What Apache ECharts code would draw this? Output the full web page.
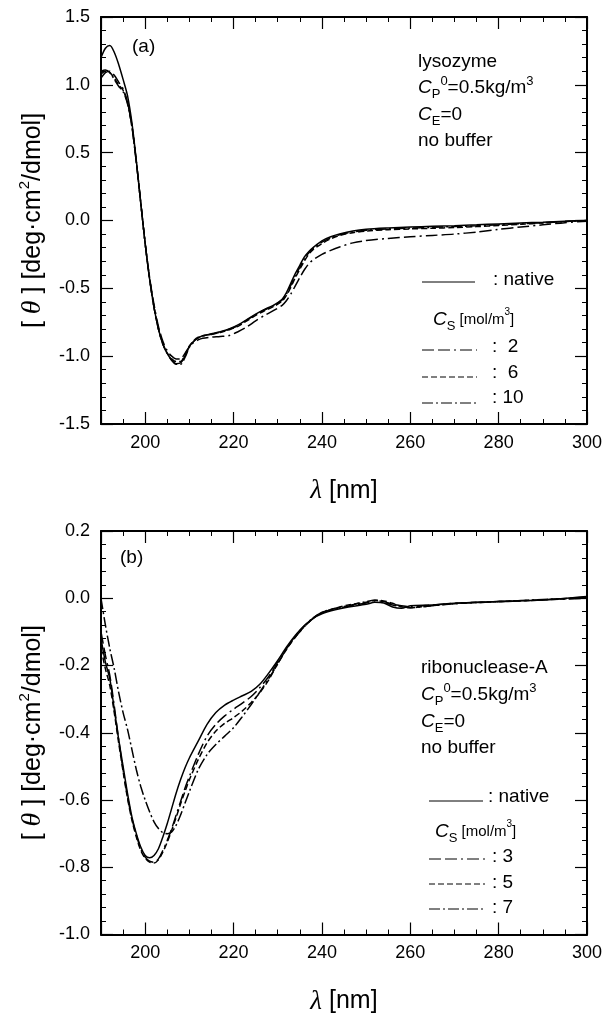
<!DOCTYPE html>
<html>
<head>
<meta charset="utf-8">
<script src="https://cdn.jsdelivr.net/npm/echarts@6/dist/echarts.min.js"></script>
<style>
html, body { margin: 0; padding: 0; background: #fff; }
#chart { width: 614px; height: 1016px; }
</style>
</head>
<body>
<div id="chart"></div>
<script>
// (a) lysozyme
var lambdaA = [190,191,192,193,194,195,196,197,198,199,200,201,202,203,204,205,206,207,208,209,210,211,212,213,
  215,217,219,221,223,225,227,229,231,232,233,234,235,236,237,238,240,242,244,247,250,255,260,265,270,275,280,285,290,295,300];
var nativeA = [1.20,1.27,1.29,1.24,1.15,1.04,0.92,0.72,0.44,0.13,-0.17,-0.43,-0.64,-0.80,-0.91,-0.98,-1.03,-1.055,-1.05,-1.00,
  -0.93,-0.89,-0.865,-0.85,-0.835,-0.82,-0.80,-0.77,-0.73,-0.69,-0.655,-0.625,-0.58,-0.53,-0.46,-0.39,-0.33,-0.27,-0.23,-0.20,
  -0.15,-0.12,-0.10,-0.078,-0.065,-0.055,-0.048,-0.043,-0.038,-0.032,-0.025,-0.018,-0.012,-0.005,0.0];
var cs2A = [1.05,1.09,1.10,1.07,1.02,0.97,0.87,0.69,0.43,0.13,-0.17,-0.42,-0.62,-0.78,-0.89,-0.96,-1.00,-1.02,-1.02,-0.98,
  -0.93,-0.90,-0.88,-0.868,-0.86,-0.855,-0.848,-0.82,-0.785,-0.74,-0.70,-0.665,-0.625,-0.59,-0.54,-0.48,-0.42,-0.365,-0.32,-0.29,
  -0.25,-0.22,-0.195,-0.165,-0.148,-0.132,-0.12,-0.11,-0.10,-0.085,-0.065,-0.048,-0.032,-0.016,-0.005];
var cs6A = [1.08,1.10,1.09,1.05,1.00,0.96,0.87,0.70,0.43,0.13,-0.17,-0.43,-0.64,-0.80,-0.91,-0.98,-1.02,-1.04,-1.04,-0.99,
  -0.925,-0.885,-0.86,-0.85,-0.84,-0.825,-0.805,-0.78,-0.74,-0.70,-0.665,-0.635,-0.595,-0.55,-0.49,-0.42,-0.36,-0.30,-0.25,-0.215,
  -0.17,-0.135,-0.11,-0.09,-0.078,-0.068,-0.062,-0.057,-0.052,-0.045,-0.037,-0.028,-0.018,-0.008,0.0];
var cs10A = [1.10,1.11,1.09,1.04,0.99,0.95,0.86,0.69,0.43,0.13,-0.17,-0.43,-0.64,-0.80,-0.91,-0.98,-1.03,-1.06,-1.06,-1.01,
  -0.935,-0.89,-0.865,-0.852,-0.838,-0.822,-0.802,-0.775,-0.735,-0.695,-0.66,-0.63,-0.585,-0.54,-0.475,-0.405,-0.345,-0.285,-0.24,-0.205,
  -0.16,-0.128,-0.105,-0.085,-0.072,-0.062,-0.056,-0.05,-0.045,-0.039,-0.032,-0.024,-0.016,-0.008,0.0];

// (b) ribonuclease-A
var lambdaB = [190,191,192,193,194,195,196,197,198,199,200,201,202,203,204,205,206,207,208,209,210,
  212,214,216,218,220,222,224,226,228,230,232,234,236,238,240,243,246,250,252,254,256,258,260,265,270,280,290,300];
var nativeB = [-0.12,-0.19,-0.24,-0.33,-0.42,-0.50,-0.58,-0.65,-0.70,-0.74,-0.765,-0.772,-0.765,-0.745,-0.71,-0.67,-0.625,-0.58,-0.54,-0.505,-0.475,
  -0.425,-0.375,-0.34,-0.318,-0.303,-0.29,-0.277,-0.255,-0.222,-0.185,-0.145,-0.11,-0.082,-0.06,-0.046,
  -0.034,-0.026,-0.018,-0.012,-0.014,-0.026,-0.03,-0.022,-0.02,-0.015,-0.01,-0.005,0.005];
var cs3B = [-0.10,-0.17,-0.23,-0.32,-0.42,-0.51,-0.59,-0.655,-0.705,-0.745,-0.77,-0.782,-0.785,-0.775,-0.75,-0.72,-0.685,-0.645,-0.605,-0.565,-0.53,
  -0.465,-0.41,-0.375,-0.35,-0.33,-0.312,-0.292,-0.265,-0.232,-0.19,-0.15,-0.115,-0.085,-0.06,-0.042,
  -0.032,-0.024,-0.014,-0.008,-0.01,-0.018,-0.022,-0.025,-0.02,-0.015,-0.01,-0.005,0.0];
var cs5B = [-0.15,-0.21,-0.26,-0.34,-0.43,-0.515,-0.595,-0.66,-0.71,-0.75,-0.773,-0.785,-0.787,-0.778,-0.755,-0.725,-0.69,-0.652,-0.612,-0.575,-0.54,
  -0.48,-0.43,-0.395,-0.372,-0.355,-0.335,-0.31,-0.28,-0.242,-0.195,-0.152,-0.115,-0.085,-0.06,-0.043,
  -0.03,-0.02,-0.012,-0.006,-0.008,-0.015,-0.025,-0.028,-0.022,-0.016,-0.01,-0.005,0.002];
var cs7B = [0.0,-0.08,-0.15,-0.21,-0.28,-0.34,-0.39,-0.45,-0.51,-0.56,-0.60,-0.635,-0.665,-0.685,-0.697,-0.70,-0.695,-0.675,-0.645,-0.61,-0.575,
  -0.51,-0.465,-0.435,-0.41,-0.385,-0.352,-0.316,-0.278,-0.238,-0.195,-0.15,-0.112,-0.082,-0.058,-0.042,
  -0.03,-0.022,-0.01,-0.006,-0.012,-0.02,-0.025,-0.028,-0.022,-0.016,-0.01,-0.004,0.002];

var FONT = 'Liberation Sans, Arial, sans-serif';
var DASH_LONG = [12, 4, 12, 4, 2, 4];
var DASH_SHORT = [6, 3];
var DASH_DOT = [11, 3, 2, 3];

function pairs(xs, ys) {
  return xs.map(function (x, i) { return [x, ys[i]]; });
}
function fmt1(v) { return Math.abs(v) < 1e-9 ? '0.0' : v.toFixed(1); }

function xAx(gi, pos, main) {
  return {
    type: 'value', gridIndex: gi, position: pos, min: 190, max: 300, splitNumber: 5,
    name: main ? '{l|λ}{n| [nm]}' : '',
    nameLocation: 'middle', nameGap: 52,
    nameTextStyle: {
      rich: {
        l: { fontSize: 27, fontStyle: 'italic', fontFamily: 'Liberation Serif, serif', color: '#000', lineHeight: 30 },
        n: { fontSize: 25, fontFamily: FONT, color: '#000', lineHeight: 30 }
      }
    },
    axisLine: { onZero: false, lineStyle: { color: '#000', width: 2 } },
    axisTick: { inside: true, length: 12, lineStyle: { color: '#000', width: 1.2 } },
    minorTick: { show: true, splitNumber: 4, length: 5, lineStyle: { color: '#000', width: 1 } },
    axisLabel: { show: main, showMinLabel: false, margin: 10, fontSize: 18, color: '#000', fontFamily: FONT },
    splitLine: { show: false }
  };
}

function yAx(gi, pos, main, mn, mx, step) {
  return {
    type: 'value', gridIndex: gi, position: pos, min: mn, max: mx, interval: step,
    name: main ? '{b|[ }{t|θ}{b| ] [deg·cm}{p|2}{b|/dmol]}' : '',
    nameLocation: 'middle', nameGap: 52, nameRotate: 90,
    nameTextStyle: {
      rich: {
        b: { fontSize: 25, fontFamily: FONT, color: '#000', lineHeight: 32 },
        t: { fontSize: 28, fontStyle: 'italic', fontFamily: 'Liberation Serif, serif', color: '#000', lineHeight: 32 },
        p: { fontSize: 15, fontFamily: FONT, color: '#000', lineHeight: 15, verticalAlign: 'top' }
      }
    },
    axisLine: { onZero: false, lineStyle: { color: '#000', width: 2 } },
    axisTick: { inside: true, length: 12, lineStyle: { color: '#000', width: 1.2 } },
    minorTick: { show: true, splitNumber: 5, length: 5, lineStyle: { color: '#000', width: 1 } },
    axisLabel: { show: main, margin: 11, fontSize: 18, color: '#000', fontFamily: FONT, formatter: fmt1 },
    splitLine: { show: false }
  };
}

function curve(xi, yi, xs, ys, dash) {
  return {
    type: 'line', xAxisIndex: xi, yAxisIndex: yi, data: pairs(xs, ys),
    showSymbol: false, smooth: 0.3, silent: true,
    lineStyle: { color: '#000', width: 1.5, type: dash }
  };
}

var RICH = {
  n: { fontSize: 19, fontFamily: FONT, fill: '#000', lineHeight: 26 },
  ci: { fontSize: 19, fontFamily: FONT, fontStyle: 'italic', fill: '#000', lineHeight: 26 },
  sub: { fontSize: 13, fontFamily: FONT, fill: '#000', lineHeight: 13, verticalAlign: 'bottom' },
  sup: { fontSize: 13, fontFamily: FONT, fill: '#000', lineHeight: 13, verticalAlign: 'top' },
  s: { fontSize: 15, fontFamily: FONT, fill: '#000', lineHeight: 26 },
  ssup: { fontSize: 10, fontFamily: FONT, fill: '#000', lineHeight: 11, verticalAlign: 'top' }
};

function txt(x, y, s) {
  return {
    type: 'text', x: x, y: y, silent: true,
    style: { text: s, rich: RICH, fontSize: 19, fontFamily: FONT, fill: '#000', align: 'left', verticalAlign: 'middle' }
  };
}
function sample(x1, x2, y, dash) {
  return {
    type: 'line', silent: true,
    shape: { x1: x1, y1: y, x2: x2, y2: y },
    style: { stroke: '#000', lineWidth: 1, lineDash: dash }
  };
}

var graphics = [
  txt(132, 47, '{n|(a)}'),
  txt(418, 62, '{n|lysozyme}'),
  txt(418, 88, '{ci|C}{sub|P}{sup|0}{n|=0.5kg/m}{sup|3}'),
  txt(418, 115, '{ci|C}{sub|E}{n|=0}'),
  txt(418, 141, '{n|no buffer}'),
  sample(422, 475, 282, null),
  txt(493, 280, '{n|: native}'),
  txt(433, 320, '{ci|C}{sub|S}{s| [mol/m}{ssup|3}{s|]}'),
  sample(422, 477, 350, DASH_LONG),
  txt(492, 347, '{n|:  2}'),
  sample(422, 477, 377, DASH_SHORT),
  txt(492, 373, '{n|:  6}'),
  sample(422, 477, 403, DASH_DOT),
  txt(492, 398, '{n|: 10}'),

  txt(120, 558, '{n|(b)}'),
  txt(421, 668, '{n|ribonuclease-A}'),
  txt(421, 695, '{ci|C}{sub|P}{sup|0}{n|=0.5kg/m}{sup|3}'),
  txt(421, 722, '{ci|C}{sub|E}{n|=0}'),
  txt(421, 748, '{n|no buffer}'),
  sample(429, 483, 801, null),
  txt(488, 797, '{n|: native}'),
  txt(435, 832, '{ci|C}{sub|S}{s| [mol/m}{ssup|3}{s|]}'),
  sample(429, 485, 859, DASH_LONG),
  txt(492, 857, '{n|: 3}'),
  sample(429, 485, 884, DASH_SHORT),
  txt(492, 883, '{n|: 5}'),
  sample(429, 485, 909, DASH_DOT),
  txt(492, 908, '{n|: 7}')
];

var chart = echarts.init(document.getElementById('chart'), null, { renderer: 'canvas' });
var option = {
  backgroundColor: '#ffffff',
  animation: false,
  grid: [
    { left: 101, top: 17, width: 486, height: 407 },
    { left: 101, top: 531, width: 486, height: 408 }
  ],
  xAxis: [xAx(0, 'bottom', true), xAx(0, 'top', false), xAx(1, 'bottom', true), xAx(1, 'top', false)],
  yAxis: [
    yAx(0, 'left', true, -1.5, 1.5, 0.5), yAx(0, 'right', false, -1.5, 1.5, 0.5),
    yAx(1, 'left', true, -1.0, 0.2, 0.2), yAx(1, 'right', false, -1.0, 0.2, 0.2)
  ],
  series: [
    curve(0, 0, lambdaA, nativeA, 'solid'),
    curve(0, 0, lambdaA, cs2A, DASH_LONG),
    curve(0, 0, lambdaA, cs6A, DASH_SHORT),
    curve(0, 0, lambdaA, cs10A, DASH_DOT),
    curve(2, 2, lambdaB, nativeB, 'solid'),
    curve(2, 2, lambdaB, cs3B, DASH_LONG),
    curve(2, 2, lambdaB, cs5B, DASH_SHORT),
    curve(2, 2, lambdaB, cs7B, DASH_DOT)
  ],
  graphic: graphics
};
chart.setOption(option);
</script>
</body>
</html>
